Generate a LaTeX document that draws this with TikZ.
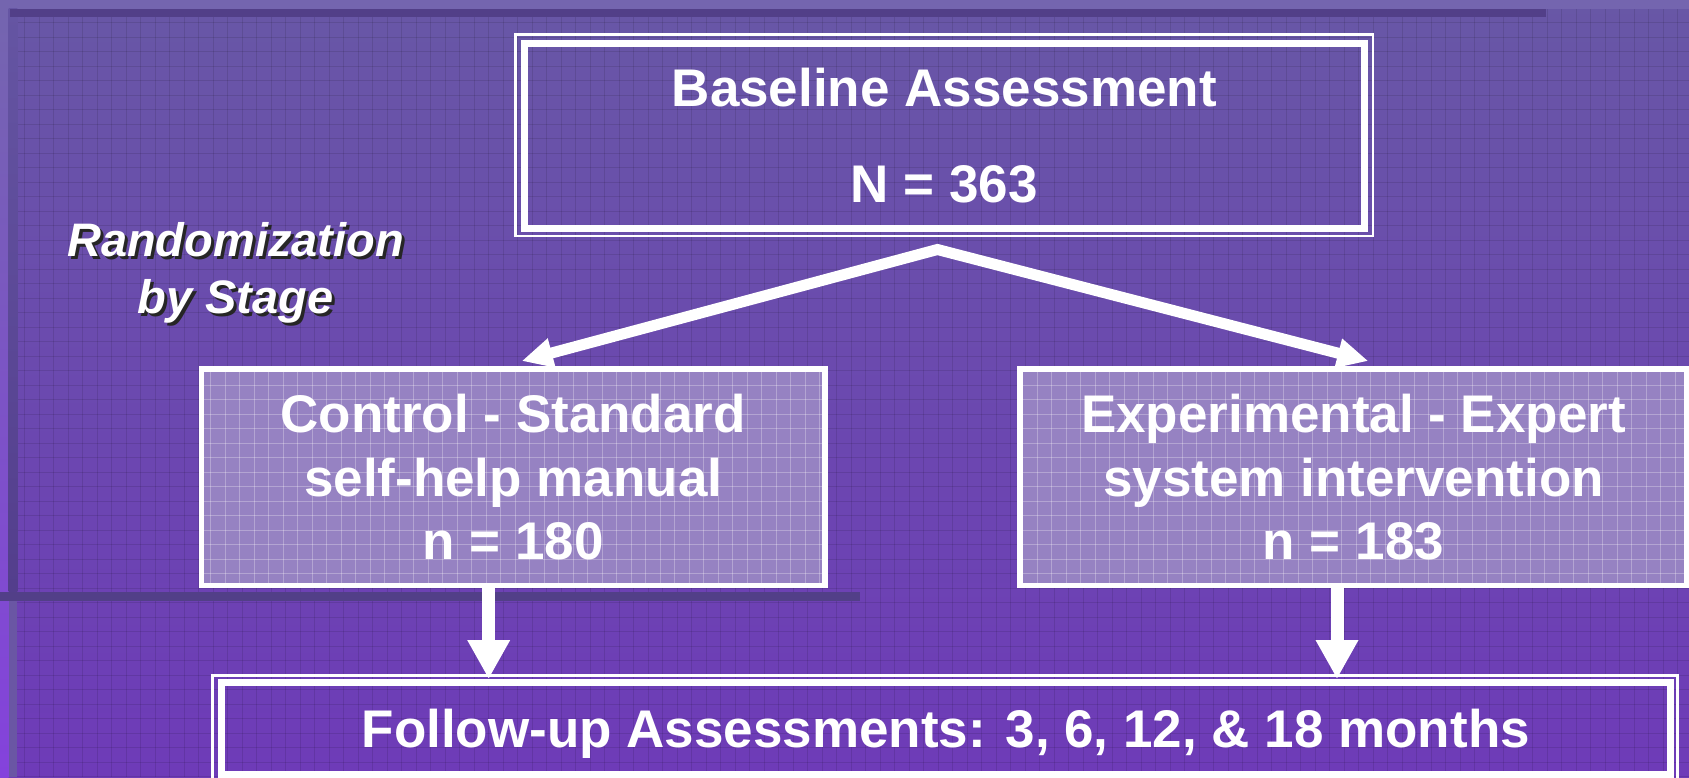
\documentclass[tikz,border=0pt]{standalone}
\usepackage{fontspec}
\setmainfont{Liberation Sans}
\usetikzlibrary{arrows.meta,calc}
\definecolor{bgtop}{HTML}{6857A6}
\definecolor{bgmid}{HTML}{7444C4}
\definecolor{bgbot}{HTML}{6E3BB8}
\definecolor{stripe}{HTML}{7465AF}
\definecolor{band}{HTML}{523F88}
\definecolor{boxfill}{HTML}{9682C2}
\definecolor{leftlight}{HTML}{8442DC}
\definecolor{beveltop}{HTML}{6555A3}
\definecolor{bevelbot}{HTML}{533E8C}
\definecolor{bevellow}{HTML}{6A56A4}
\begin{document}
\begin{tikzpicture}[x=0.5pt,y=-0.5pt,
  txt/.style={text=white,font=\bfseries\fontsize{26.5}{31.75}\selectfont,align=center},
  gridline/.style={black,opacity=0.1,line width=0.5pt},
  boxgrid/.style={white,opacity=0.28,line width=0.5pt},
  groupbox/.style={draw=white,line width=2.75pt,fill=boxfill,inner sep=0pt,outer sep=0pt,
    minimum height=108.25pt,txt},
  dblbox/.style={draw=white,line width=3.5pt,inner sep=0pt,outer sep=0pt,txt},
  outerline/.style={draw=white,line width=1.4pt},
  splitarrow/.style={white,line width=5.5pt,line join=miter},
  downarrow/.style={white,line width=6.5pt,-{Triangle[length=19.5pt,width=20pt]}},
  randtext/.style={font=\bfseries\itshape\fontsize{23.5}{28.5}\selectfont,align=center},
]
\useasboundingbox (0,0) rectangle (1689,777);
\clip (0,0) rectangle (1689,777);
% background
\shade[top color=bgtop, middle color=bgmid, bottom color=bgbot] (0,0) rectangle (1689,777);
\foreach \i in {0,...,116} {\draw[gridline] ({10.3+14.5*\i},0) -- ({10.3+14.5*\i},777);}
\foreach \j in {0,...,53} {\draw[gridline] (0,{8.2+14.5*\j}) -- (1689,{8.2+14.5*\j});}
% frame strips
\fill[stripe] (0,0) rectangle (1689,8.5);
\shade[top color=stripe, bottom color=leftlight] (0,8.5) rectangle (8.5,777);
\shade[top color=beveltop, bottom color=bevelbot] (8.5,8.5) rectangle (17.3,591.5);
\fill[bevellow] (8.5,601) rectangle (17.3,777);
\fill[band] (9.5,8.5) rectangle (1546,17.3);
\fill[band] (0,591.5) rectangle (860,601);
% randomization label
\node[randtext, text=black!85] (randshadow) at (238.5,276.1) {Randomization\\by Stage};
\node[randtext, text=white] (rand) at (235.5,273.1) {Randomization\\by Stage};
% boxes
\node[dblbox, minimum width=419.75pt, minimum height=92.75pt,
  font=\bfseries\fontsize{26.5}{48}\selectfont] (base) at (944.25,135.75) {Baseline Assessment\\N = 363};
\draw[outerline] ([shift={(-9,-8.5)}]base.north west) rectangle ([shift={(9,7.5)}]base.south east);
\node[groupbox, minimum width=311.75pt] (ctrl) at (513.25,477.25) {Control - Standard\\self-help manual\\n = 180};
\node[groupbox, minimum width=333.5pt] (expt) at (1353.5,477.25) {Experimental - Expert\\system intervention\\n = 183};
% light grid inside the two group boxes
\begin{scope}
  \clip (ctrl.north west) rectangle (ctrl.south east);
  \foreach \i in {13,...,57} {\draw[boxgrid] ({7.7+14.5*\i},360) -- ({7.7+14.5*\i},595);}
  \foreach \j in {24,...,41} {\draw[boxgrid] (190,{8+14.5*\j}) -- (840,{8+14.5*\j});}
\end{scope}
\begin{scope}
  \clip (expt.north west) rectangle (expt.south east);
  \foreach \i in {69,...,117} {\draw[boxgrid] ({7.7+14.5*\i},360) -- ({7.7+14.5*\i},595);}
  \foreach \j in {24,...,41} {\draw[boxgrid] (1010,{8+14.5*\j}) -- (1700,{8+14.5*\j});}
\end{scope}
\node[dblbox, minimum width=724.75pt, minimum height=45.75pt, text depth=0pt] (follow) at (945.75,728.25)
  {Follow-up Assessments: 3, 6, 12, \& 18 months};
\draw[outerline, line width=1.5pt] ([shift={(-8.7,-6.8)}]follow.north west) rectangle ([shift={(6.5,16)}]follow.south east);
% split arrows
\coordinate (split) at (937.4,249.5);
\coordinate (ltip) at ([shift={(8.5,-8)}]ctrl.north);
\coordinate (rtip) at ([shift={(14.8,-8)}]expt.north);
\draw[splitarrow, {Triangle[length=15.5pt,width=14pt]}-{Triangle[length=15.5pt,width=14pt]}] (ltip) -- (split) -- (rtip);
% down arrows
\coordinate (lend) at (488.7,679);
\coordinate (rend) at (1337,679);
\draw[downarrow] (ctrl.south -| lend) -- (lend);
\draw[downarrow] (expt.south -| rend) -- (rend);
\end{tikzpicture}
\end{document}
